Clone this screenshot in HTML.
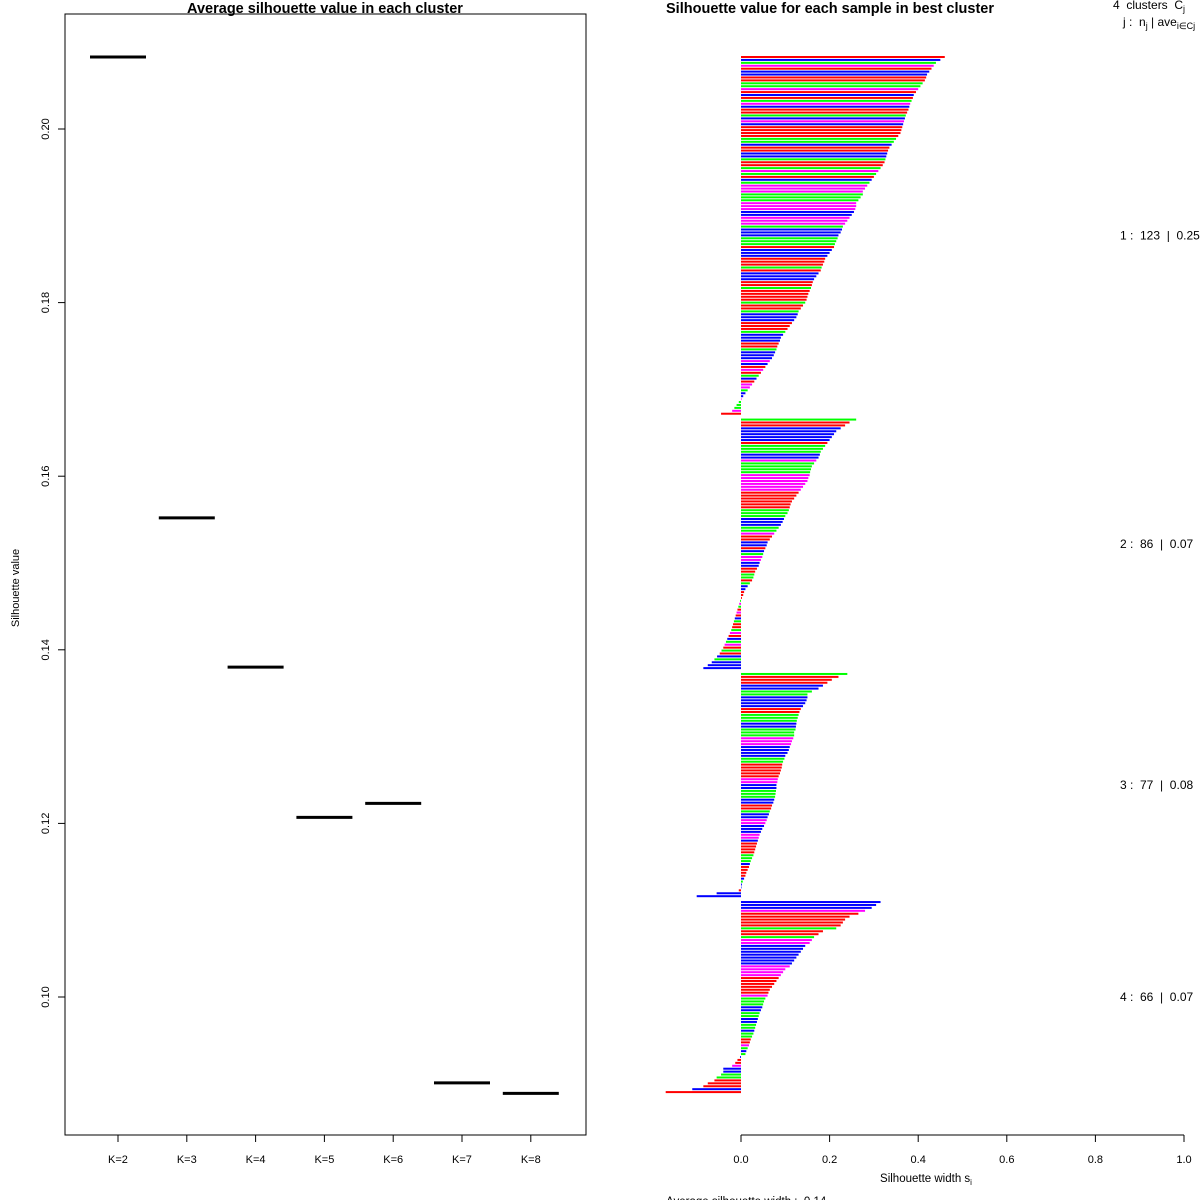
<!DOCTYPE html>
<html><head><meta charset="utf-8">
<style>
html,body{margin:0;padding:0;background:#fff;}
svg{display:block;font-family:"Liberation Sans",sans-serif;}
text{white-space:pre;}
</style></head>
<body>
<svg id="chart" width="1200" height="1200" viewBox="0 0 1200 1200">
  <rect x="65" y="14" width="521" height="1121" fill="none" stroke="#000" stroke-width="1"/>
  <text x="325" y="13" font-size="14.5" font-weight="bold" text-anchor="middle">Average silhouette value in each cluster</text>
  <text x="0" y="0" font-size="11" text-anchor="middle" transform="translate(19,588) rotate(-90)">Silhouette value</text>
  <g id="leftAxes"></g>
  <g id="leftMarks"></g>
  <text x="830" y="13" font-size="14.5" font-weight="bold" text-anchor="middle">Silhouette value for each sample in best cluster</text>
  <text x="1113" y="9" font-size="12">4  clusters  C<tspan font-size="9" dy="3">j</tspan></text>
  <text x="1123" y="26" font-size="12">j :  n<tspan font-size="9" dy="3">j</tspan><tspan dy="-3"> | ave</tspan><tspan font-size="9" dy="3">i∈Cj</tspan><tspan dy="-3">  s</tspan><tspan font-size="9" dy="3">i</tspan></text>
  <g id="rightAxes"></g>
  <g id="rightBars"></g>
  <g id="rightLabels"></g>
  <text x="926" y="1182" font-size="11.5" text-anchor="middle">Silhouette width s<tspan font-size="8" dy="3">i</tspan></text>
  <text x="666" y="1205" font-size="11.5">Average silhouette width :  0.14</text>
</svg>
<script>
// ---- left chart data ----
const kCategories = ["K=2","K=3","K=4","K=5","K=6","K=7","K=8"];
const kValues = [0.2083, 0.1552, 0.1380, 0.1207, 0.1223, 0.0901, 0.0889];
const leftTicks = [0.10, 0.12, 0.14, 0.16, 0.18, 0.20];
const leftTickLabels = ["0.10","0.12","0.14","0.16","0.18","0.20"];

// ---- right chart data ----
const clusterNames = ["1","2","3","4"];
const clusterSizes = [123, 86, 77, 66];
const clusterAvg = ["0.25","0.07","0.08","0.07"];
const c1 = [0.46,0.45,0.44,0.435,0.43,0.425,0.42,0.418,0.415,0.41,
0.405,0.40,0.395,0.39,0.388,0.385,0.382,0.38,0.378,0.375,
0.372,0.37,0.368,0.366,0.364,0.362,0.36,0.355,0.35,0.345,
0.34,0.335,0.332,0.33,0.328,0.326,0.324,0.32,0.315,0.31,
0.305,0.30,0.295,0.29,0.285,0.28,0.275,0.275,0.27,0.265,
0.26,0.26,0.258,0.255,0.25,0.245,0.24,0.235,0.23,0.228,
0.225,0.22,0.218,0.215,0.212,0.21,0.205,0.2,0.195,0.19,
0.188,0.185,0.182,0.18,0.175,0.17,0.165,0.162,0.16,0.158,
0.155,0.152,0.15,0.148,0.145,0.14,0.135,0.13,0.128,0.125,
0.12,0.115,0.11,0.105,0.1,0.095,0.09,0.088,0.085,0.082,
0.08,0.077,0.074,0.07,0.065,0.06,0.055,0.05,0.045,0.04,
0.035,0.03,0.025,0.02,0.015,0.01,0.005,0.0,-0.005,-0.01,
-0.015,-0.02,-0.045];
const c2 = [0.26,0.245,0.235,0.225,0.215,0.21,0.205,0.2,0.195,0.19,
0.185,0.18,0.178,0.175,0.17,0.165,0.16,0.158,0.156,0.155,
0.152,0.15,0.145,0.14,0.135,0.13,0.125,0.12,0.115,0.112,
0.11,0.108,0.105,0.1,0.097,0.094,0.09,0.085,0.08,0.075,
0.07,0.065,0.06,0.058,0.055,0.052,0.05,0.048,0.045,0.042,
0.04,0.036,0.032,0.03,0.028,0.025,0.02,0.015,0.01,0.007,
0.005,0.002,
-0.002,-0.004,-0.006,-0.008,-0.01,-0.012,-0.014,-0.016,-0.018,-0.02,
-0.022,-0.025,-0.028,-0.031,-0.034,-0.037,-0.04,-0.044,-0.048,-0.054,
-0.06,-0.066,-0.075,-0.085];
const c3 = [0.24,0.22,0.205,0.195,0.185,0.175,0.16,0.15,0.15,0.148,
0.145,0.14,0.135,0.132,0.13,0.128,0.126,0.125,0.124,0.123,
0.12,0.12,0.118,0.115,0.113,0.11,0.108,0.105,0.1,0.098,
0.095,0.093,0.092,0.09,0.088,0.085,0.083,0.082,0.08,0.08,
0.079,0.078,0.077,0.075,0.073,0.07,0.068,0.065,0.063,0.06,
0.058,0.055,0.052,0.048,0.045,0.042,0.04,0.038,0.036,0.034,
0.032,0.03,0.028,0.025,0.022,0.02,0.018,0.015,0.012,0.01,
0.007,0.004,0.002,0.0,-0.005,-0.055,-0.1];
const c4 = [0.315,0.305,0.295,0.28,0.265,0.245,0.235,0.23,0.225,0.215,
0.185,0.175,0.165,0.16,0.155,0.145,0.14,0.135,0.13,0.125,
0.12,0.115,0.11,0.1,0.095,0.09,0.085,0.08,0.075,0.07,
0.065,0.062,0.06,0.055,0.052,0.05,0.048,0.045,0.042,0.04,
0.038,0.036,0.034,0.032,0.03,0.028,0.025,0.022,0.02,0.018,
0.015,0.012,0.01,
-0.002,-0.008,-0.013,-0.02,-0.04,-0.04,-0.045,-0.055,-0.06,-0.075,-0.085,-0.11,-0.17];
const clusterValues = [c1, c2, c3, c4];
const colorCodes = [
"rbgmrbbrrggmrbrgmbrrgbmbrrrrggbrrbbgrrgmgrbgmmmgggmmmbbmmmgbbbgggrbbbrrrgrbbbrrgrrrrgrrgbbbrrrgbbbrrgbbbmbrmrgbrmmgbbmgggm",
"grrbbbbbrgggbbmggggmmmmmmrrrrrrgggbbbggmrrbbrbgmmbbrrggrgbbrrrgmgrmrbgrrgmrbgmrgrbgbbb",
"grrrbbggbbbbrrgggbbgggmmmbbbbggrrrrrmmbbgggbbrrgbbmmbbbmmbrrrrgggbrrrrbgbbrbb",
"bbbmrrrrrgrrgmmbbbbbbbmmmmrrrrrrmgggbbggbbggbggrrmgbgbrrmbbggrrrbrr"];
const colorMap = {r:"#ff0000", b:"#0000ff", g:"#00ff00", m:"#ff00ff"};
const xTicks = [0.0, 0.2, 0.4, 0.6, 0.8, 1.0];
const xTickLabels = ["0.0","0.2","0.4","0.6","0.8","1.0"];

const NS = "http://www.w3.org/2000/svg";
function mk(tag, attrs, parent, text){
  const e = document.createElementNS(NS, tag);
  for (const k in attrs) e.setAttribute(k, attrs[k]);
  if (text !== undefined) e.textContent = text;
  parent.appendChild(e);
  return e;
}
const ly = v => 129 + (0.20 - v) / 0.02 * 173.6;
const lx = i => 118 + i * 68.8;
const la = document.getElementById('leftAxes');
const lm = document.getElementById('leftMarks');
let ax = mk('line', {x1:65, x2:65, y1:ly(leftTicks[0]), y2:ly(leftTicks[leftTicks.length-1]), stroke:'#000'}, la);


leftTicks.forEach((t, i) => {
  const y = ly(t);
  const tk = mk('line', {x1:58, x2:65, y1:y, y2:y, stroke:'#000'}, la);
  
  
  const tx = mk('text', {x:0, y:0, 'font-size':11, 'text-anchor':'middle', transform:`translate(49,${y}) rotate(-90)`}, la, leftTickLabels[i]);
  
  
});
kCategories.forEach((c, i) => {
  const x = lx(i);
  const tk = mk('line', {x1:x, x2:x, y1:1135, y2:1142, stroke:'#000'}, la);
  
  
  const tx = mk('text', {x:x, y:1163, 'font-size':11, 'text-anchor':'middle'}, la, c);
  
  
  const seg = mk('line', {x1:x-28, x2:x+28, y1:ly(kValues[i]), y2:ly(kValues[i]), stroke:'#000', 'stroke-width':3}, lm);
  
  
});
const rx = v => 741 + v * 443;
const rowPitch = 2.924;
const rowY = r => 57 + r * rowPitch;
const ra = document.getElementById('rightAxes');
const rb = document.getElementById('rightBars');
const rl = document.getElementById('rightLabels');
let xa = mk('line', {x1:rx(0), x2:rx(1), y1:1135, y2:1135, stroke:'#000'}, ra);


xTicks.forEach((t, i) => {
  const x = rx(t);
  const tk = mk('line', {x1:x, x2:x, y1:1135, y2:1142, stroke:'#000'}, ra);
  
  
  const tx = mk('text', {x:x, y:1163, 'font-size':11, 'text-anchor':'middle'}, ra, xTickLabels[i]);
  
  
});
let row = 0;
clusterValues.forEach((vals, ci) => {
  const startRow = row;
  vals.forEach((v, j) => {
    const y = rowY(row);
    const x0 = Math.min(rx(0), rx(v));
    const w = Math.abs(rx(v) - rx(0));
    const code = colorCodes[ci][j % colorCodes[ci].length];
    const b = mk('rect', {x:x0, y:y - 1, width:Math.max(w, 0.5), height:2, fill:colorMap[code]}, rb);
    
    
    row++;
  });
  const midY = (rowY(startRow) + rowY(row - 1)) / 2;
  const lab = mk('text', {x:1120, y:midY + 4, 'font-size':12}, rl,
    clusterNames[ci] + " :  " + clusterSizes[ci] + "  |  " + clusterAvg[ci]);
  
  
  row++;
});
</script>
</body></html>
